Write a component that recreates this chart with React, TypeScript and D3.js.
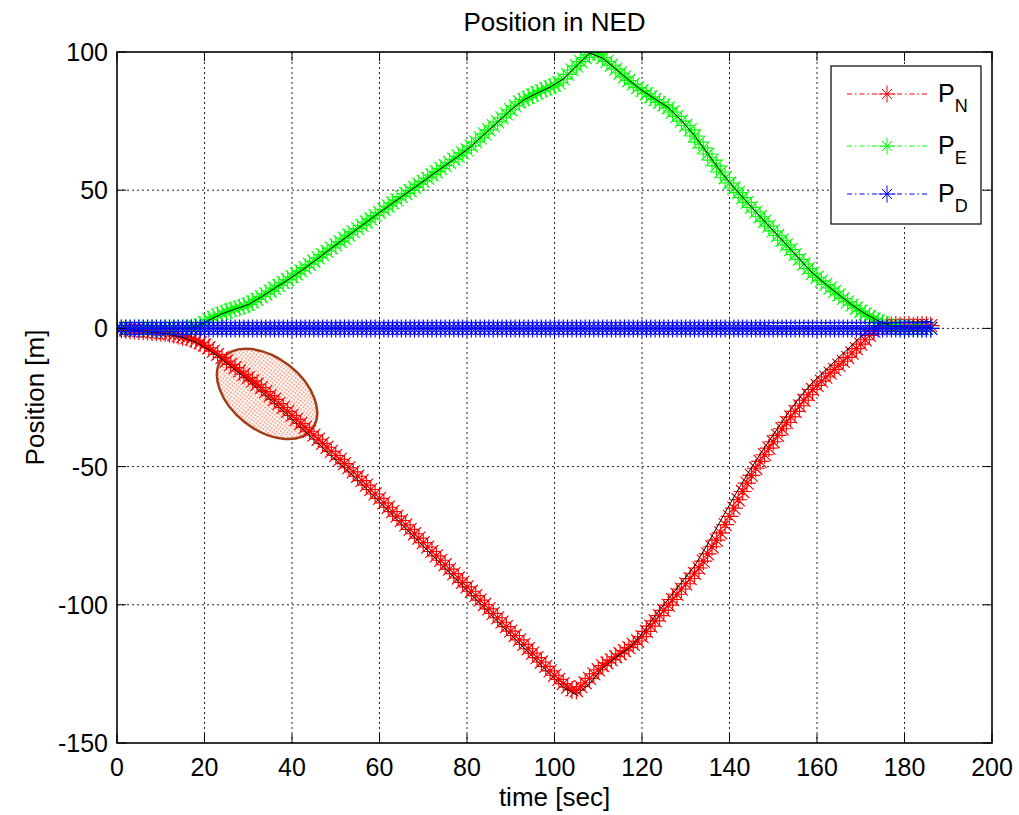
import React from 'react';
import * as d3 from 'd3';

const TITLE = 'Position in NED';
const X_LABEL = 'time [sec]';
const Y_LABEL = 'Position [m]';
const X_TICKS = [0, 20, 40, 60, 80, 100, 120, 140, 160, 180, 200];
const Y_TICKS = [-150, -100, -50, 0, 50, 100];
const LEGEND_SUBS = ['N', 'E', 'D'];
const COLORS = ['#ff0000', '#00ff00', '#0000ff'];

// estimated positions, one sample per second from t = 0 s
const P_N = [
  0, -0.3, -0.5, -0.7, -0.8, -0.9, -1.0, -1.1, -1.3, -1.4,
  -1.5, -1.6, -1.9, -2.2, -2.6, -3.0, -3.3, -3.8, -4.4, -5.2,
  -6.0, -7.0, -8.2, -9.4, -10.6, -11.8, -13.0, -14.2, -15.4, -16.6,
  -17.8, -19.0, -20.2, -21.4, -22.9, -24.3, -25.7, -27.2, -28.6, -30.0,
  -31.5, -32.9, -34.4, -35.8, -37.2, -38.6, -40.1, -41.6, -43.0, -44.5,
  -46.0, -47.4, -48.9, -50.4, -51.9, -53.5, -55.1, -56.7, -58.3, -59.9,
  -61.5, -63.1, -64.7, -66.3, -67.9, -69.5, -71.1, -72.7, -74.3, -75.9,
  -77.5, -79.1, -80.7, -82.3, -83.9, -85.5, -87.1, -88.7, -90.3, -91.9,
  -93.5, -95.1, -96.7, -98.3, -99.9, -101.5, -103.1, -104.7, -106.3, -107.9,
  -109.5, -111.1, -112.7, -114.3, -115.9, -117.5, -119.1, -120.7, -122.3, -123.9,
  -125.5, -127.0, -128.5, -129.8, -130.8, -131.0, -129.6, -128.2, -126.6, -125.0,
  -123.5, -122.0, -121.0, -119.9, -118.8, -117.7, -116.6, -115.5, -114.3, -113.1,
  -111.5, -109.6, -107.7, -105.8, -103.9, -102.0, -100.1, -98.1, -96.2, -94.3,
  -92.4, -90.5, -88.6, -86.7, -84.2, -81.6, -79.0, -76.6, -74.0, -71.0,
  -68.0, -65.0, -62.0, -59.0, -56.0, -53.2, -50.6, -48.1, -45.7, -43.3,
  -41.0, -38.7, -36.3, -34.0, -32.0, -30.0, -28.0, -26.0, -24.0, -22.1,
  -20.6, -19.1, -17.6, -16.2, -14.8, -13.3, -11.9, -10.5, -8.9, -7.3,
  -5.7, -4.1, -2.5, -1.0, 0.2, 1.0, 1.2, 1.1, 1.2, 1.0,
  1.1, 1.2, 1.0, 1.1, 1.2, 1.1, 1.0,
];

const P_E = [
  0, 0, 0, 0, 0, 0, 0, 0, 0, 0,
  0, 0, 0, 0, 0, 0, 0.1, 0.2, 0.5, 1.2,
  2.1, 3.2, 4.1, 4.8, 5.4, 6.0, 6.6, 7.1, 7.6, 8.1,
  8.7, 9.6, 10.5, 11.5, 12.5, 13.5, 14.6, 15.6, 16.6, 17.6,
  18.7, 19.7, 20.8, 22.0, 23.2, 24.3, 25.5, 26.7, 27.9, 29.1,
  30.2, 31.4, 32.6, 33.8, 35.0, 36.1, 37.3, 38.5, 39.6, 40.8,
  42.0, 43.1, 44.3, 45.4, 46.5, 47.7, 48.8, 49.9, 51.0, 52.2,
  53.3, 54.4, 55.6, 56.7, 57.8, 58.9, 60.1, 61.2, 62.3, 63.5,
  64.6, 66.0, 67.5, 68.9, 70.4, 71.8, 73.3, 74.7, 76.2, 77.6,
  79.1, 80.5, 82.0, 82.8, 83.6, 84.4, 85.2, 86.0, 86.7, 87.4,
  88.0, 88.8, 90.3, 91.9, 93.5, 95.0, 96.5, 98.0, 99.2, 100.0,
  99.3, 98.0, 96.6, 95.2, 93.8, 92.4, 91.0, 89.7, 88.4, 87.1,
  86.0, 84.9, 83.8, 82.8, 81.8, 80.9, 79.8, 78.3, 76.7, 75.0,
  73.4, 71.8, 69.6, 67.4, 65.3, 63.1, 60.9, 58.8, 56.6, 54.5,
  52.6, 50.8, 49.1, 47.3, 45.6, 43.8, 42.1, 40.4, 38.7, 37.0,
  35.3, 33.6, 31.9, 30.2, 28.5, 26.7, 25.0, 23.3, 21.6, 19.9,
  18.5, 17.2, 15.9, 14.6, 13.3, 12.1, 10.8, 9.6, 8.4, 7.3,
  6.2, 5.2, 4.3, 3.4, 2.6, 1.9, 1.3, 0.8, 0.5, 0.3,
  0.2, 0.1, 0.1, 0, 0, 0, 0,
];

const P_D = [
  0, 0, 0, 0, 0, 0, 0, 0, 0, 0,
  0, 0, 0, 0, 0, 0, 0, 0, 0, 0,
  0, 0, 0, 0, 0, 0, 0, 0, 0, 0,
  0, 0, 0, 0, 0, 0, 0, 0, 0, 0,
  0, 0, 0, 0, 0, 0, 0, 0, 0, 0,
  0, 0, 0, 0, 0, 0, 0, 0, 0, 0,
  0, 0, 0, 0, 0, 0, 0, 0, 0, 0,
  0, 0, 0, 0, 0, 0, 0, 0, 0, 0,
  0, 0, 0, 0, 0, 0, 0, 0, 0, 0,
  0, 0, 0, 0, 0, 0, 0, 0, 0, 0,
  0, 0, 0, 0, 0, 0, 0, 0, 0, 0,
  0, 0, 0, 0, 0, 0, 0, 0, 0, 0,
  0, 0, 0, 0, 0, 0, 0, 0, 0, 0,
  0, 0, 0, 0, 0, 0, 0, 0, 0, 0,
  0, 0, 0, 0, 0, 0, 0, 0, 0, 0,
  0, 0, 0, 0, 0, 0, 0, 0, 0, 0,
  0, 0, 0, 0, 0, 0, 0, 0, 0, 0,
  0, 0, 0, 0, 0, 0, 0, 0, 0, 0,
  0, 0, 0, 0, 0, 0, 0,
];

// reference (true) trajectory, one sample every 3 s from t = 0 s
const TRUE_N = [
  0, -0.5, -1.0, -1.5, -2.2, -3.3, -5.0, -7.8, -11.2, -15.0,
  -18.8, -22.8, -27.0, -31.4, -35.8, -40.2, -44.6, -49.0, -53.4, -58.0,
  -62.8, -67.6, -72.4, -77.2, -82.0, -86.8, -91.6, -96.4, -101.2, -106.0,
  -110.8, -115.6, -120.4, -125.2, -129.8, -132.6, -128.5, -123.0, -119.0, -115.8,
  -110.5, -104.0, -98.0, -92.0, -86.0, -78.0, -69.5, -61.0, -53.0, -45.5,
  -38.5, -31.5, -25.0, -19.5, -15.0, -10.5, -6.0, -1.5, 1.5, 2.0,
  2.2, 2.3, 2.5,
];
const TRUE_E = [
  0, 0, 0, 0, 0, 0, 0.4, 3.0, 5.3, 7.0,
  8.6, 11.4, 14.5, 17.5, 20.7, 24.2, 27.8, 31.3, 34.9, 38.4,
  41.9, 45.3, 48.7, 52.1, 55.5, 58.9, 62.3, 65.9, 70.3, 74.6,
  79.0, 82.7, 85.1, 87.3, 90.2, 94.9, 99.6, 97.8, 93.9, 89.8,
  86.1, 83.0, 79.9, 75.2, 69.8, 63.3, 56.8, 51.0, 45.7, 40.5,
  35.4, 30.3, 25.1, 20.0, 16.0, 12.2, 8.5, 5.3, 2.7, 0.9,
  0.4, 0.3, 0.3,
];

const SAMPLE_DT = 1;
const TRUE_DT = 3;

// highlighted region (data coordinates of its centre)
const HIGHLIGHT_T = 34.3;
const HIGHLIGHT_V = -23.7;

const W = 1019;
const H = 815;
const L = 117, R = 992, T = 52, B = 743;
const FONT = '"Liberation Sans", Arial, Helvetica, sans-serif';

function asteriskPath(pts: [number, number][], h: number, d: number) {
  let s = '';
  for (const [x, y] of pts) {
    s += `M${x - h},${y}L${x + h},${y}M${x},${y - h}L${x},${y + h}`;
    s += `M${x - d},${y - d}L${x + d},${y + d}M${x - d},${y + d}L${x + d},${y - d}`;
  }
  return s;
}

export default function App() {
  const x = d3.scaleLinear().domain([0, 200]).range([L, R]);
  const y = d3.scaleLinear().domain([-150, 100]).range([B, T]);

  const series = [P_N, P_E, P_D].map((vals) =>
    vals.map((v, i) => [x(i * SAMPLE_DT), y(v)] as [number, number])
  );
  const truths = [TRUE_N, TRUE_E].map((vals) =>
    vals.map((v, i) => [x(i * TRUE_DT), y(v)] as [number, number])
  );
  const line = d3.line();
  const dashDot = '5,3,1.5,3';
  const tickLen = 9;

  const legendY = [94, 146, 194];

  const renderSeries = (k: number) => (
    <g key={'s' + k}>
      <path d={line(series[k]) || ''} fill="none" stroke={COLORS[k]} strokeWidth={1} strokeDasharray={dashDot} />
      <path d={asteriskPath(series[k], 9, 6.5)} fill="none" stroke={COLORS[k]} strokeWidth={1.15} />
    </g>
  );

  return (
    <div style={{ position: 'absolute', left: 0, top: 0 }}>
      <svg width={W} height={H} style={{ display: 'block', background: '#fff' }} fontFamily={FONT}>
        <defs>
          <pattern id="dots" width="3" height="3" patternUnits="userSpaceOnUse">
            <rect width="3" height="3" fill="#ffffff" />
            <rect width="1.6" height="1.6" fill="#f08a6a" />
          </pattern>
          <clipPath id="plotClip">
            <rect x={L} y={T} width={R - L} height={B - T} />
          </clipPath>
        </defs>
        <rect x={0} y={0} width={W} height={H} fill="#fff" />
        <rect x={L} y={T} width={R - L} height={B - T} fill="#fff" />

        {/* grid */}
        <g stroke="#000" strokeWidth={1} strokeDasharray="2,3" opacity={0.85}>
          {X_TICKS.slice(1, -1).map((t) => (
            <line key={'gx' + t} x1={x(t)} x2={x(t)} y1={T} y2={B} />
          ))}
          {Y_TICKS.slice(1, -1).map((t) => (
            <line key={'gy' + t} x1={L} x2={R} y1={y(t)} y2={y(t)} />
          ))}
        </g>

        {/* highlight ellipse */}
        <ellipse
          cx={x(HIGHLIGHT_T)}
          cy={y(HIGHLIGHT_V)}
          rx={57}
          ry={36}
          transform={`rotate(38 ${x(HIGHLIGHT_T)} ${y(HIGHLIGHT_V)})`}
          fill="url(#dots)"
          stroke="#a23c18"
          strokeWidth={2.5}
        />

        <g clipPath="url(#plotClip)">
          {renderSeries(0)}
          {renderSeries(1)}
          {truths.map((pts, k) => (
            <path key={'t' + k} d={line(pts) || ''} fill="none" stroke="#000" strokeWidth={1} />
          ))}
          {renderSeries(2)}
        </g>

        {/* axes box and ticks */}
        <rect x={L} y={T} width={R - L} height={B - T} fill="none" stroke="#000" strokeWidth={1.6} />
        <g stroke="#000" strokeWidth={1}>
          {X_TICKS.map((t) => (
            <g key={'tx' + t}>
              <line x1={x(t)} x2={x(t)} y1={B} y2={B - tickLen} />
              <line x1={x(t)} x2={x(t)} y1={T} y2={T + tickLen} />
            </g>
          ))}
          {Y_TICKS.map((t) => (
            <g key={'ty' + t}>
              <line x1={L} x2={L + tickLen} y1={y(t)} y2={y(t)} />
              <line x1={R} x2={R - tickLen} y1={y(t)} y2={y(t)} />
            </g>
          ))}
        </g>

        {/* tick labels */}
        <g fontSize={25} fill="#000">
          {X_TICKS.map((t) => (
            <text key={'lx' + t} x={x(t)} y={776} textAnchor="middle">{t}</text>
          ))}
          {Y_TICKS.map((t) => (
            <text key={'ly' + t} x={L - 9} y={y(t) + 9} textAnchor="end">{t}</text>
          ))}
        </g>

        <text x={(L + R) / 2} y={31} textAnchor="middle" fontSize={26}>{TITLE}</text>
        <text x={(L + R) / 2} y={806} textAnchor="middle" fontSize={26}>{X_LABEL}</text>
        <text transform={`translate(44 ${(T + B) / 2}) rotate(-90)`} textAnchor="middle" fontSize={26}>{Y_LABEL}</text>

        {/* legend */}
        <rect x={831} y={66} width={150} height={158} fill="#fff" stroke="#000" strokeWidth={1.2} />
        {LEGEND_SUBS.map((sub, k) => {
          const ly = legendY[k];
          return (
            <g key={'lg' + k}>
              <line x1={847} x2={927} y1={ly} y2={ly} stroke={COLORS[k]} strokeWidth={1} strokeDasharray={dashDot} />
              <path d={asteriskPath([[887, ly]], 8.5, 5)} stroke={COLORS[k]} strokeWidth={1} fill="none" />
              <text x={938} y={ly + 8} fontSize={25}>
                P<tspan fontSize={18} dy={10}>{sub}</tspan>
              </text>
            </g>
          );
        })}
      </svg>
    </div>
  );
}
